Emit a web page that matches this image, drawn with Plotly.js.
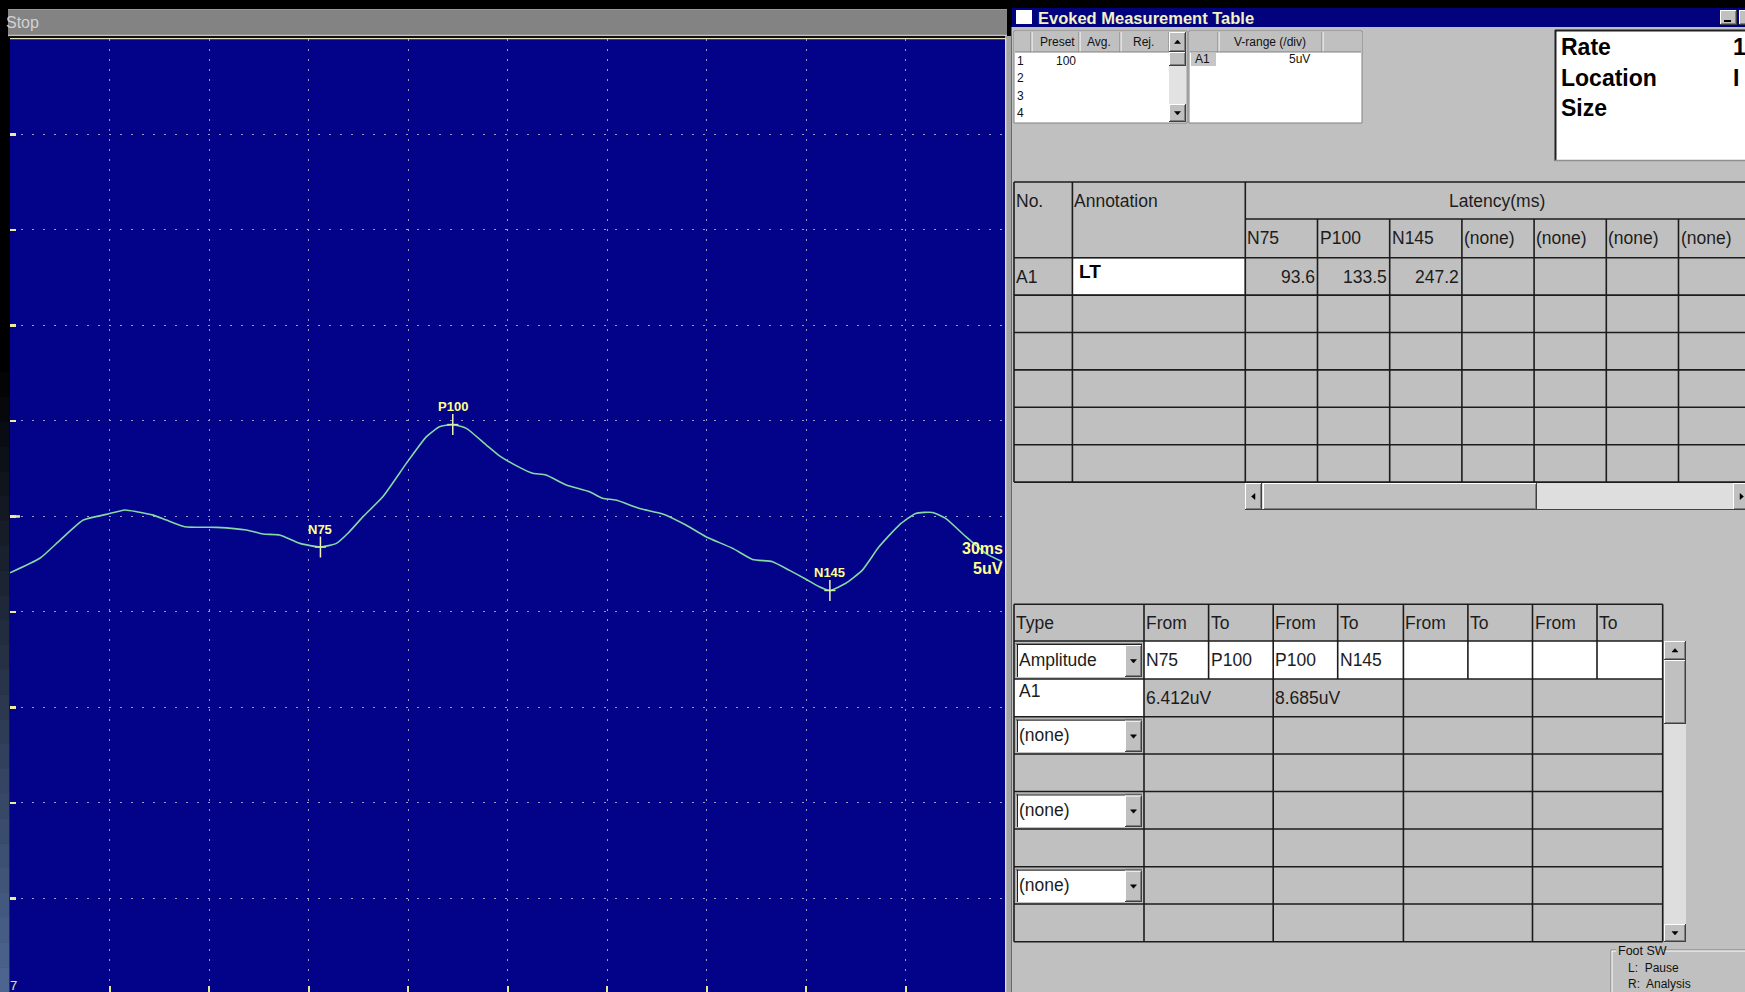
<!DOCTYPE html>
<html><head><meta charset="utf-8">
<script src="https://cdn.plot.ly/plotly-3.0.1.min.js"></script>
<style>html,body{margin:0;padding:0;background:#000;overflow:hidden}#chart{width:1745px;height:992px}</style>
</head><body><div id="chart"></div>
<script>
// ---- Waveform data (ms, uV) ----
const timeMs = [0, 9.0, 15.1, 22.1, 29.1, 34.6, 38.2, 43.2, 47.2, 52.7, 62.3, 71.3, 76.3, 81.3, 87.4, 93.6, 98.4, 101.9, 106.4, 112.4, 119.5, 125.5, 129.5, 133.5, 137.6, 143.6, 147.6, 153.6, 157.6, 161.6, 167.7, 174.7, 178.7, 182.7, 189.8, 196.8, 203.8, 209.8, 217.9, 223.9, 229.9, 234.9, 240.0, 244.0, 247.2, 252.0, 257.0, 262.0, 268.1, 273.1, 278.1, 282.1, 288.2, 294.2, 299.2];
const ampUv = [-2.95, -2.19, -1.24, -0.19, 0.11, 0.34, 0.25, 0.07, -0.19, -0.54, -0.57, -0.71, -0.92, -0.97, -1.41, -1.60, -1.41, -0.88, -0.02, 1.03, 2.78, 4.17, 4.70, 4.81, 4.61, 3.74, 3.17, 2.57, 2.26, 2.17, 1.65, 1.29, 0.95, 0.86, 0.42, 0.13, -0.45, -1.06, -1.67, -2.25, -2.37, -2.81, -3.29, -3.68, -3.875, -3.50, -2.81, -1.59, -0.45, 0.16, 0.21, -0.10, -1.06, -1.93, -2.37];

// ---- Peaks ----
const peakNames = ['N75', 'P100', 'N145'];
const peakLatency = [93.6, 133.5, 247.2];
const peakAmp = [-1.60, 4.81, -3.875];

// ---- Scale ----
const sweepMsPerDiv = 30;
const sensUvPerDiv = 5;
const scaleLabels = ['30ms', '5uV'];
const xGridVals = [30, 60, 90, 120, 150, 180, 210, 240, 270];
const yGridVals = [-20, -15, -10, -5, 0, 5, 10, 15, 20];

// ---- Table texts ----
const windowTitle = 'Evoked Measurement Table';
const statusText = 'Stop';
const presetHeaders = ['Preset', 'Avg.', 'Rej.'];
const presetRowNums = ['1', '2', '3', '4'];
const presetValue = '100';
const vrangeHeader = 'V-range (/div)';
const vrangeChannel = 'A1';
const vrangeValue = '5uV';
const infoLabels = ['Rate', 'Location', 'Size'];
const infoValues = ['1', 'I', ''];
const latencyHeaders = ['N75', 'P100', 'N145', '(none)', '(none)', '(none)', '(none)'];
const latencyValues = ['93.6', '133.5', '247.2', '', '', '', ''];
const latencyChannel = 'A1';
const latencyAnnotation = 'LT';
const ampHeaders = ['From', 'To', 'From', 'To', 'From', 'To', 'From', 'To'];
const ampTypes = ['Amplitude', '(none)', '(none)', '(none)'];
const ampPairs = ['N75', 'P100', 'P100', 'N145', '', '', '', ''];
const ampChannel = 'A1';
const ampValues = ['6.412uV', '8.685uV', '', ''];
const footTitle = 'Foot SW';
const footLines = ['L:  Pause', 'R:  Analysis'];

const W = 1745, H = 992;
const P = x => x / W, Q = y => 1 - y / H;
const FONT = 'Liberation Sans, Arial, sans-serif';
const shapes = [];
const ann = [];

function rect(x0, y0, x1, y1, fill, lc, lw) {
  shapes.push({type: 'rect', xref: 'paper', yref: 'paper', x0: P(x0), x1: P(x1), y0: Q(y1), y1: Q(y0),
    fillcolor: fill, line: {color: lc || fill, width: lw || 0}, layer: 'above'});
}
function line(x0, y0, x1, y1, c, w) {
  shapes.push({type: 'line', xref: 'paper', yref: 'paper', x0: P(x0), x1: P(x1), y0: Q(y0), y1: Q(y1),
    line: {color: c, width: w || 1}, layer: 'above'});
}
function tri(pts, c) {
  let d = 'M ' + pts.map(p => P(p[0]) + ',' + Q(p[1])).join(' L ') + ' Z';
  shapes.push({type: 'path', xref: 'paper', yref: 'paper', path: d, fillcolor: c, line: {color: c, width: 0.5}, layer: 'above'});
}
function txt(x, y, t, o) {
  o = o || {};
  ann.push({xref: 'paper', yref: 'paper', x: P(x), y: Q(y), text: t, showarrow: false,
    xanchor: o.xa || 'left', yanchor: 'middle', borderpad: 0,
    font: {family: o.family || FONT, size: o.size || 17.5, color: o.color || '#1c1c1c'}});
}
function raised(x0, y0, x1, y1) {
  rect(x0, y0, x1, y1, '#c0c0c0');
  line(x0, y0 + 0.5, x1, y0 + 0.5, '#ffffff', 1);
  line(x0 + 0.5, y0, x0 + 0.5, y1, '#ffffff', 1);
  line(x0, y1 - 0.5, x1, y1 - 0.5, '#404040', 1);
  line(x1 - 0.5, y0, x1 - 0.5, y1, '#404040', 1);
  line(x0 + 1, y1 - 1.5, x1 - 1, y1 - 1.5, '#808080', 1);
  line(x1 - 1.5, y0 + 1, x1 - 1.5, y1 - 1, '#808080', 1);
}
function arrowBtn(x0, y0, x1, y1, dir) {
  raised(x0, y0, x1, y1);
  const cx = (x0 + x1) / 2, cy = (y0 + y1) / 2, s = 3;
  if (dir === 'up') tri([[cx - s, cy + 1.5], [cx + s, cy + 1.5], [cx, cy - 2]], '#000');
  if (dir === 'down') tri([[cx - s, cy - 1.5], [cx + s, cy - 1.5], [cx, cy + 2]], '#000');
  if (dir === 'left') tri([[cx + 1.5, cy - s], [cx + 1.5, cy + s], [cx - 2, cy]], '#000');
  if (dir === 'right') tri([[cx - 1.5, cy - s], [cx - 1.5, cy + s], [cx + 2, cy]], '#000');
}

// ---- Left gradient strip ----
const bands = 40;
for (let i = 0; i < bands; i++) {
  const t = (i + 0.5) / bands;
  const k = t < 0.36 ? 0 : Math.pow((t - 0.36) / 0.64, 1.0);
  const r = Math.round(78 * k), g = Math.round(102 * k), b = Math.round(146 * k);
  rect(0, i * H / bands, 9.5, (i + 1) * H / bands + 0.5, `rgb(${r},${g},${b})`);
}

// ---- Status bar above waveform ----
rect(8, 9, 1007, 35, '#838383');
line(8, 9.5, 1007, 9.5, '#9a9a9a', 1);
line(8, 35.5, 1007, 35.5, '#c4c4c4', 1.5);
line(9, 37, 1006, 37, '#101010', 2);
line(10, 38.6, 1005, 38.6, '#e6e0b4', 1.2);
txt(5, 22, statusText, {size: 16, color: '#d2d2d2'});
// right border of waveform window
rect(1005, 36, 1012, 992, '#a4a4a4');
line(1005.7, 38, 1005.7, 992, '#e4e4e4', 1.2);
line(1011.5, 27, 1011.5, 992, '#6a6a6a', 1);

// centre baseline longer tick
shapes.push({type: 'line', xref: 'paper', yref: 'y', x0: P(10), x1: P(20), y0: 0, y1: 0,
  line: {color: '#ecec9c', width: 2.5}, layer: 'above'});

// scale labels and corner glyph
txt(1004, 548, '<b>' + scaleLabels[0] + '</b>', {xa: 'right', size: 16, color: '#ffff8c'});
txt(1004, 568, '<b>' + scaleLabels[1] + '</b>', {xa: 'right', size: 16, color: '#ffff8c'});
txt(9, 985, '7', {size: 13, color: '#e8e890'});

// ---- Right panel ----
rect(1012, 27, 1745, 992, '#c0c0c0');
rect(1012, 8, 1745, 27, '#02027e');
rect(1016, 10, 1032, 24, '#ffffff');
txt(1037, 17.5, '<b>' + windowTitle + '</b>', {size: 16.5, color: '#f2f2c6'});
raised(1720, 10, 1737, 25);
line(1724, 21, 1731, 21, '#000', 2);
raised(1739, 10, 1756, 25);

// Preset table
rect(1014, 31, 1187, 123, '#ffffff', '#808080', 1);
rect(1015, 32, 1169, 52, '#c0c0c0');
[1031, 1079, 1120, 1169].forEach(x => { line(x, 32, x, 52, '#808080', 1); line(x + 1, 32, x + 1, 52, '#ffffff', 1); });
line(1015, 52, 1169, 52, '#808080', 1);
const presetCx = [1057, 1099, 1143];
presetHeaders.forEach((h, i) => txt(presetCx[i], 42, h, {xa: 'center', size: 12, color: '#111'}));
presetRowNums.forEach((n, i) => txt(1016, 61 + i * 17.4, n, {size: 12, color: '#111'}));
txt(1066, 61, presetValue, {xa: 'center', size: 12, color: '#111'});
rect(1169, 32, 1186, 122, '#e2e2e2');
arrowBtn(1169, 32, 1186, 52, 'up');
raised(1169, 52, 1186, 66);
arrowBtn(1169, 104, 1186, 122, 'down');

// V-range table
rect(1189, 31, 1362, 123, '#ffffff', '#808080', 1);
rect(1190, 32, 1361, 52, '#c0c0c0');
[1218, 1322].forEach(x => { line(x, 32, x, 52, '#808080', 1); line(x + 1, 32, x + 1, 52, '#ffffff', 1); });
line(1190, 52, 1361, 52, '#808080', 1);
txt(1270, 42, vrangeHeader, {xa: 'center', size: 12, color: '#111'});
rect(1191, 53, 1216, 66, '#c6c6c6');
txt(1194, 59.5, vrangeChannel, {size: 12, color: '#111'});
txt(1311, 59, vrangeValue, {xa: 'right', size: 12, color: '#111'});

// Info box
rect(1555, 30, 1745, 161, '#ffffff');
line(1555.5, 30, 1555.5, 161, '#202020', 2);
line(1555, 30.5, 1745, 30.5, '#202020', 2);
line(1555, 160.5, 1745, 160.5, '#909090', 1.5);
infoLabels.forEach((l, i) => {
  txt(1560, 47.5 + i * 30, '<b>' + l + '</b>', {size: 23, color: '#000'});
  if (infoValues[i]) txt(1732, 47.5 + i * 30, '<b>' + infoValues[i] + '</b>', {size: 23, color: '#000'});
});

// Latency table
const LC = '#1c1c1c';
const latX0 = 1245.3, latW = 72.2;
const rowTops = [257.7, 295.1, 332.5, 369.9, 407.3, 444.7, 482.1];
rect(1073, 258.7, 1244.3, 294.1, '#ffffff');
line(1014, 182, 1745, 182, LC, 1.6);
line(latX0, 219, 1745, 219, LC, 1.6);
rowTops.forEach(y => line(1014, y, 1745, y, LC, 1.6));
[1014, 1072.4, latX0].forEach(x => line(x, 182, x, 482.1, LC, 1.6));
for (let k = 1; k < latencyHeaders.length; k++) line(latX0 + k * latW, 219, latX0 + k * latW, 482.1, LC, 1.6);
txt(1015, 200.5, 'No.');
txt(1073, 200.5, 'Annotation');
txt(1497, 200.5, 'Latency(ms)', {xa: 'center'});
latencyHeaders.forEach((h, k) => txt(latX0 + k * latW + 1, 238, h));
txt(1015, 276.5, latencyChannel);
txt(1078, 271, '<b>' + latencyAnnotation + '</b>', {size: 19, color: '#000'});
latencyValues.forEach((v, k) => { if (v) txt(latX0 + (k + 1) * latW - 1.5, 276.5, v, {xa: 'right'}); });
// horizontal scrollbar
rect(1245, 483, 1745, 510, '#dedede');
line(1245, 509.5, 1745, 509.5, '#404040', 1);
arrowBtn(1245, 483, 1262, 510, 'left');
raised(1263, 483, 1537, 510);
arrowBtn(1733, 483, 1750, 510, 'right');

// Amplitude table
const LX = [1014, 1144, 1208.6, 1273.2, 1337.7, 1403.4, 1467.9, 1532.5, 1597, 1662.7];
const LY = [604.3, 641, 679, 716.7, 754, 791.5, 829, 866.7, 904, 941.7];
rect(LX[1], LY[1], LX[9], LY[2], '#ffffff');
rect(LX[0], LY[2], LX[1], LY[3], '#ffffff');
LY.forEach(y => line(LX[0], y, LX[9], y, LC, 1.6));
[0, 1, 3, 5, 7, 9].forEach(i => line(LX[i], LY[0], LX[i], LY[9], LC, 1.6));
[2, 4, 6, 8].forEach(i => line(LX[i], LY[0], LX[i], LY[2], LC, 1.6));
txt(1015, 622.5, 'Type');
ampHeaders.forEach((h, i) => txt(LX[i + 1] + 1, 622.5, h));
ampTypes.forEach((t, j) => {
  const r = j * 2 + 1;
  const y0 = LY[r] + 2, y1 = LY[r + 1] - 2;
  rect(1015.5, y0, 1125, y1, '#ffffff');
  line(1015.5, y0 + 0.5, 1142, y0 + 0.5, '#808080', 1);
  line(1016, y0, 1016, y1, '#808080', 1);
  line(1016.5, y0 + 1.5, 1142, y0 + 1.5, '#202020', 1);
  line(1017.5, y0 + 1, 1017.5, y1, '#202020', 1);
  arrowBtn(1125, y0 + 2, 1142, y1, 'down');
  txt(1017.5, (y0 + y1) / 2 - 0.5, t);
});
ampPairs.forEach((p, i) => { if (p) txt(LX[i + 1] + 1, 659.5, p); });
txt(1017.5, 690.5, ampChannel);
ampValues.forEach((v, k) => { if (v) txt(LX[1 + 2 * k] + 1, 697.5, v); });
// vertical scrollbar
rect(1664, 641, 1686, 942, '#dedede');
arrowBtn(1664, 641, 1686, 660, 'up');
raised(1664, 660, 1686, 724);
arrowBtn(1664, 924, 1686, 942, 'down');

// Foot SW group
line(1611, 950, 1616, 950, '#808080', 1);
line(1663, 950, 1745, 950, '#808080', 1);
line(1611, 951, 1616, 951, '#ffffff', 1);
line(1663, 951, 1745, 951, '#ffffff', 1);
line(1611, 950, 1611, 992, '#808080', 1);
line(1612, 951, 1612, 992, '#ffffff', 1);
txt(1617, 950.5, footTitle, {size: 12.5, color: '#111'});
footLines.forEach((l, i) => txt(1627, 967.5 + i * 16.5, l, {size: 12, color: '#111'}));

// ---- Traces ----
const traces = [
  {x: timeMs, y: ampUv, type: 'scatter', mode: 'lines', hoverinfo: 'skip',
   line: {color: '#86d8a4', width: 1.6, shape: 'spline', smoothing: 0.5}},
  {x: peakLatency, y: peakAmp, type: 'scatter', mode: 'markers', hoverinfo: 'skip',
   marker: {symbol: 'line-ns', size: 15, line: {color: '#f0f0b8', width: 1.5}}},
  {x: peakLatency, y: peakAmp, type: 'scatter', mode: 'markers', hoverinfo: 'skip',
   marker: {symbol: 'line-ew', size: 8, line: {color: '#c8f0a0', width: 1.5}}}
];
peakNames.forEach((n, i) => ann.push({x: peakLatency[i], y: peakAmp[i], xref: 'x', yref: 'y', text: '<b>' + n + '</b>',
  showarrow: false, yshift: 18, xanchor: 'center', yanchor: 'middle', font: {family: FONT, size: 13, color: '#ffff8c'}}));

const layout = {
  width: W, height: H, margin: {l: 0, r: 0, t: 0, b: 0, pad: 0},
  paper_bgcolor: '#000000', plot_bgcolor: '#030389', showlegend: false,
  xaxis: {domain: [P(10), P(1005)], range: [0, sweepMsPerDiv * 10], tickmode: 'array', tickvals: xGridVals,
    showticklabels: false, ticks: 'inside', ticklen: 6, tickwidth: 2, tickcolor: '#e8e890',
    showgrid: true, gridcolor: '#9a9ac4', gridwidth: 1, griddash: '1.5px,8.5px', zeroline: false, showline: false, fixedrange: true},
  yaxis: {domain: [0, Q(39)], range: [-24.9, sensUvPerDiv * 5], tickmode: 'array', tickvals: yGridVals,
    showticklabels: false, ticks: 'inside', ticklen: 6, tickwidth: 2.5, tickcolor: '#ecec9c',
    showgrid: true, gridcolor: '#9a9ac4', gridwidth: 1, griddash: '1.5px,9.5px', zeroline: false, showline: false, fixedrange: true},
  shapes: shapes, annotations: ann
};
Plotly.newPlot('chart', traces, layout, {staticPlot: true, displayModeBar: false});
</script></body></html>
